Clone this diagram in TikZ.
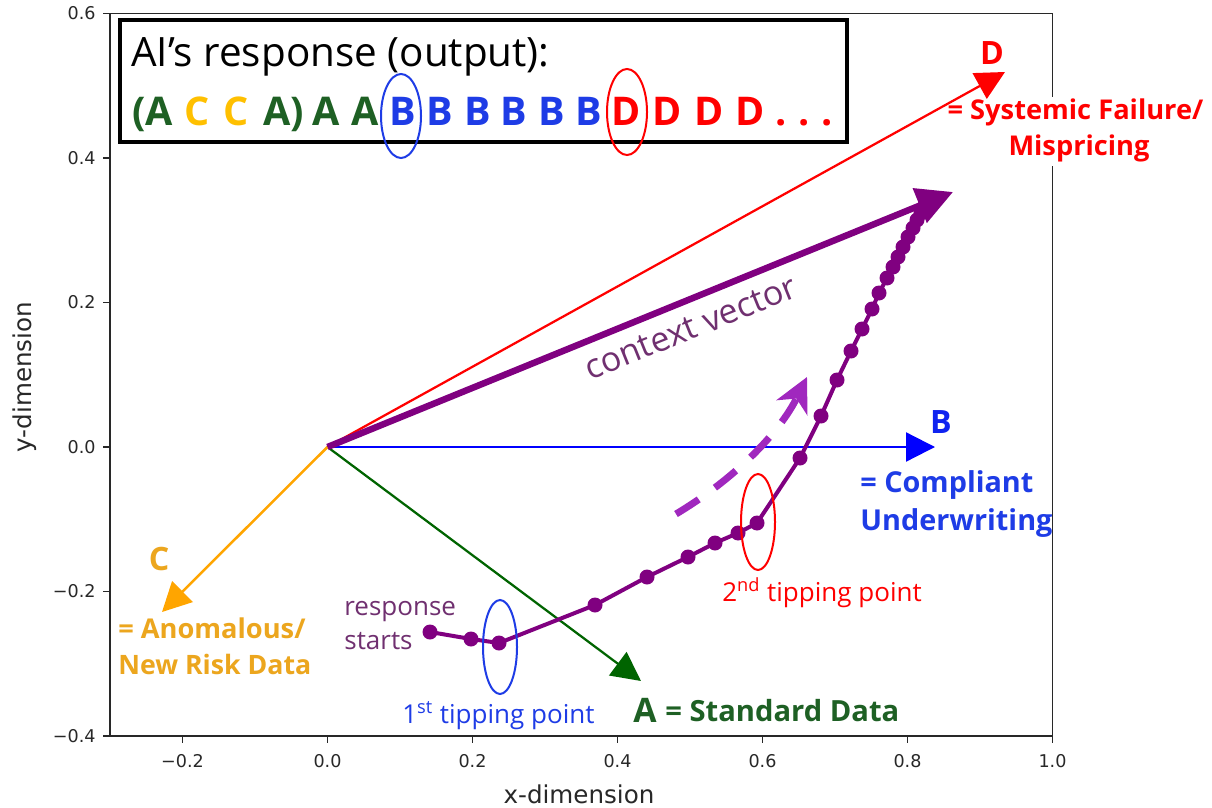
\documentclass[tikz,border=0pt]{standalone}
\usepackage{fontspec}
\setmainfont{Open Sans}
\newfontfamily\dejavu{DejaVu Sans}
\usetikzlibrary{arrows.meta}
\definecolor{dkgreen}{RGB}{30,96,36}
\definecolor{argreen}{RGB}{0,100,0}
\definecolor{gold}{RGB}{255,192,0}
\definecolor{arorange}{RGB}{255,165,0}
\definecolor{lblorange}{RGB}{236,166,30}
\definecolor{txtblue}{RGB}{30,60,230}
\definecolor{lblblue}{RGB}{15,35,240}
\definecolor{arblue}{RGB}{0,0,255}
\definecolor{arred}{RGB}{255,0,0}
\definecolor{traj}{RGB}{128,0,128}
\definecolor{txtpurple}{RGB}{112,48,112}
\definecolor{dashpurple}{RGB}{160,40,190}
\definecolor{spinec}{RGB}{40,40,40}
\newcommand\fsz[1]{\fontsize{#1}{#1}\selectfont}
\begin{document}
\begin{tikzpicture}[x=0.02cm, y=-0.02cm,
  spine/.style={draw=spinec, line width=0.026cm},
  ticklab/.style={font=\dejavu\fsz{10pt}, text=spinec, inner sep=0pt},
  axlab/.style={font=\dejavu\fsz{14pt}, text=spinec, inner sep=0pt},
  vec/.style={line width=0.045cm, -{Triangle[length=0.58cm,width=0.58cm]}},
  lbl/.style={inner sep=0pt, anchor=base west},
  clbl/.style={inner sep=0pt, anchor=base},
  bigb/.style={font=\bfseries\fsz{18.3pt}},
  smb/.style={font=\bfseries\fsz{15.5pt}},
  reg/.style={font=\fsz{14.8pt}},
  ring/.style={line width=0.04cm}]
\fill[white] (0,0) rectangle (1212,807);
\useasboundingbox (0,0) rectangle (1212,807);

% axes frame and ticks
\coordinate (ax1) at (110,13.5);
\coordinate (ax2) at (1052.5,736);
\draw[spine] (ax1) rectangle (ax2);
\foreach \lab/\y [count=\i] in {0.6/13.5,0.4/158,0.2/302.5,0.0/447,−0.2/591.5,−0.4/736}{
  \draw[spine] (103,\y) -- (110,\y);
  \node[ticklab, anchor=east] (yt\i) at (96,\y) {\lab};
}
\foreach \lab/\x [count=\i] in {−0.2/182.5,0.0/327.5,0.2/472.5,0.4/617.5,0.6/762.5,0.8/907.5,1.0/1052.5}{
  \draw[spine] (\x,736) -- (\x,743);
  \node[ticklab, anchor=north] (xt\i) at (\x,754.5) {\lab};
}
\node[axlab, anchor=base] (xl) at (579,803) {x-dimension};
\node[axlab, rotate=90] (yl) at (25,377) {y-dimension};

% response box
\coordinate (bx1) at (120,20);
\coordinate (bx2) at (847,142);
\draw[line width=0.08cm, fill=white] (bx1) rectangle (bx2);
\node[lbl, font=\fsz{23pt}] (title) at (131,67) {AI’s response (output):};
\foreach \x/\c/\col [count=\i] in {139.5/{(}/dkgreen,159.5/A/dkgreen,197/C/gold,236.5/C/gold,
  277.5/A/dkgreen,297/{)}/dkgreen,326.5/A/dkgreen,365/A/dkgreen,
  402.5/B/txtblue,440/B/txtblue,478/B/txtblue,514/B/txtblue,551.5/B/txtblue,589/B/txtblue,
  626.5/D/arred,667.5/D/arred,709/D/arred,750/D/arred,781/./arred,804/./arred,827/./arred}{
  \node[clbl, font=\bfseries\fsz{22.5pt}, text=\col] (tok\i) at (\x,126) {\c};
}
\coordinate (e1) at (401,116);
\coordinate (e2) at (627,112);
\draw[ring, txtblue] (e1) ellipse [x radius=20, y radius=42];
\draw[ring, arred] (e2) ellipse [x radius=20, y radius=43];

% white patch behind the D label (hides the spine)
\fill[white] (948,97) rectangle (1203,166);

% vectors
\coordinate (O) at (327.5,447);
\coordinate (Dt) at (1005,72);
\coordinate (CVt) at (953,192);
\coordinate (Bt) at (935,447);
\coordinate (At) at (641,681);
\coordinate (Ct) at (162,612);
\draw[vec, arred] (O) -- (Dt);
\draw[vec, arblue] (O) -- (Bt);
\draw[vec, argreen] (O) -- (At);
\draw[vec, arorange, line width=0.05cm] (O) -- (Ct);
\draw[traj, line width=0.13cm, -{Triangle[length=0.72cm,width=0.72cm]}] (O) -- (CVt);

% trajectory
\foreach \x/\y [count=\i] in {430/632,471/639,499/643,595/605,647/577,688/557,715/543,738/533,757/523,
  800/458,821/416,837/380,851/351,862/329,872/309,879/293,887/278,893/267,898/257,903/247,
  908/237,913/228,917/220,921/213,924/207}{
  \coordinate (p\i) at (\x,\y);
}
\draw[traj, line width=0.08cm, line join=round] (p1) \foreach \i in {2,...,25}{-- (p\i)};
\foreach \i in {1,...,25}{\fill[traj] (p\i) circle[radius=7.5];}

% dashed direction arrow
\coordinate (ds) at (676,514);
\coordinate (de) at (807,377);
\draw[dashpurple, line width=0.14cm, dash pattern=on 0.54cm off 0.4cm,
  -{Stealth[length=0.68cm, width=0.68cm, inset=0.2cm]}]
  (ds) .. controls (736.5,477.6) and (780.1,431.9) .. (de);

% tipping point rings
\coordinate (e3) at (500,647);
\coordinate (e4) at (758,522);
\draw[ring, txtblue] (e3) ellipse [x radius=17, y radius=47];
\draw[ring, arred] (e4) ellipse [x radius=17, y radius=48];

% labels
\node[clbl, bigb, text=arred] (Dl) at (992,65) {D};
\node[clbl, smb, text=arred] (Dl1) at (1075.5,120) {= Systemic Failure/};
\node[clbl, smb, text=arred] (Dl2) at (1079,156) {Mispricing};
\node[clbl, bigb, text=lblblue] (Bl) at (941,433) {B};
\node[lbl, smb, font=\bfseries\fsz{16.4pt}, text=txtblue] (Bl1) at (860,492) {= Compliant};
\node[lbl, smb, font=\bfseries\fsz{16.4pt}, text=txtblue] (Bl2) at (860,530) {Underwriting};
\node[clbl, bigb, text=lblorange] (Cl) at (159,570) {C};
\node[lbl, smb, text=lblorange] (Cl1) at (118,638) {= Anomalous/};
\node[lbl, smb, font=\bfseries\fsz{15.2pt}, text=lblorange] (Cl2) at (118,674) {New Risk Data};
\node[clbl, font=\bfseries\fsz{19.2pt}, text=dkgreen] (Al) at (645,722) {A};
\node[lbl, font=\bfseries\fsz{16.6pt}, text=dkgreen] (Al1) at (665,721) {= Standard Data};
\node[lbl, reg, text=txtblue] (tp1) at (402,723) {1\textsuperscript{st} tipping point};
\node[lbl, reg, text=arred] (tp2) at (722,601) {2\textsuperscript{nd} tipping point};
\node[lbl, reg, text=txtpurple] (rs1) at (344,615) {response};
\node[lbl, reg, text=txtpurple] (rs2) at (344,649) {starts};
\node[txtpurple, font=\fsz{19.4pt}, rotate=22, inner sep=0pt] (cvl) at (691,328) {context vector};
\end{tikzpicture}
\end{document}
